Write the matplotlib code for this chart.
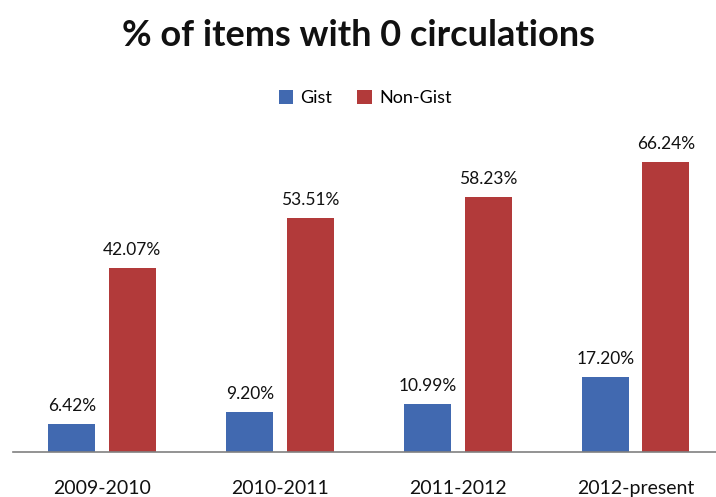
import matplotlib
matplotlib.use("Agg")
import matplotlib.pyplot as plt
import numpy as np

categories = ["2009-2010", "2010-2011", "2011-2012", "2012-present"]
gist = [6.42, 9.20, 10.99, 17.20]
non_gist = [42.07, 53.51, 58.23, 66.24]
series_names = ["Gist", "Non-Gist"]
colors = ["#4169B0", "#B23A3A"]

plt.rcParams['font.family'] = ['Lato', 'DejaVu Sans']

fig = plt.figure(figsize=(7.16, 4.97), dpi=100)
W, H = 716, 497
left, right = 13 / W, 716 / W
bottom, top = 1 - 452 / H, 1 - 130 / H
ax = fig.add_axes([left, bottom, right - left, top - bottom])

x = np.arange(len(categories))
bw = 0.264
off = 0.169
b1 = ax.bar(x - off, gist, bw, color=colors[0], label=series_names[0])
b2 = ax.bar(x + off, non_gist, bw, color=colors[1], label=series_names[1])

ymax = (452 - 130) / (290 / 66.24)
ax.set_ylim(0, ymax)
ax.set_xlim(-0.5, 3.45)

for bars, vals in ((b1, gist), (b2, non_gist)):
    for r, v in zip(bars, vals):
        ax.annotate(f"{v:.2f}%", (r.get_x() + r.get_width() / 2, v),
                    xytext=(0, 7), textcoords="offset points",
                    ha="center", va="bottom", fontsize=12.5, color="#111111")

for s in ["top", "right", "left"]:
    ax.spines[s].set_visible(False)
ax.spines["bottom"].set_color("#808080")
ax.spines["bottom"].set_linewidth(1.2)
ax.set_yticks([])
ax.set_xticks(x)
ax.set_xticklabels(categories, fontsize=14, color="#111111")
ax.tick_params(axis="x", length=0, pad=20)

fig.text(0.5, 1 - 36 / H, "% of items with 0 circulations", ha="center", va="center",
         fontsize=26, fontweight="bold", color="#111111")

fig.legend(handles=[b1, b2], labels=series_names, loc="center",
           bbox_to_anchor=(0.51, 1 - 98 / H), ncol=2, frameon=False,
           fontsize=13, handlelength=0.8, handleheight=0.8, handletextpad=0.4,
           columnspacing=1.4)

fig.savefig("out.png", dpi=100)
